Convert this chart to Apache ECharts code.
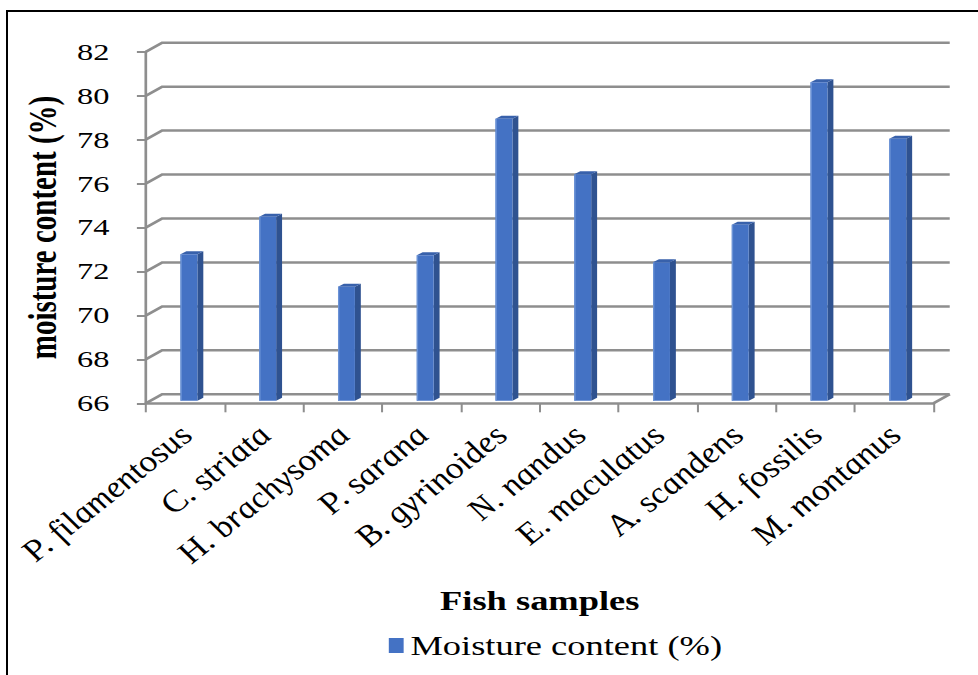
<!DOCTYPE html>
<html>
<head>
<meta charset="utf-8">
<title>Moisture content of fish samples</title>
<script src="https://cdn.jsdelivr.net/npm/echarts@6/dist/echarts.min.js"></script>
<style>
  html, body { margin: 0; padding: 0; background: #fff; overflow: hidden; width: 978px; height: 675px; }
  #frame { position: absolute; left: 6px; top: 10px; width: 1100px; height: 800px; border: 2px solid #000; box-sizing: border-box; }
  /* the chart is laid out narrow and widened horizontally */
  #chart { position: absolute; left: 0; top: 0; width: 724.4px; height: 675px; transform: scaleX(1.35); transform-origin: 0 0; }
</style>
</head>
<body>
<div id="frame"></div>
<div id="chart"></div>
<script>
// Fish species sampled
var categories = ['P. filamentosus', 'C. striata', 'H. brachysoma', 'P. sarana', 'B. gyrinoides',
                  'N. nandus', 'E. maculatus', 'A. scandens', 'H. fossilis', 'M. montanus'];
// Moisture content (%) of each species
var moisture = [72.66, 74.37, 71.19, 72.62, 78.83, 76.31, 72.30, 74.01, 80.49, 77.92];
// Value-axis ticks
var yTicks = [66, 68, 70, 72, 74, 76, 78, 80, 82];

var seriesName = 'Moisture content (%)';
var serif = "'Liberation Serif', 'Times New Roman', serif";
var gridColor = '#8e8e8e';
// pseudo-3D depth of the back wall (px)
var wallDX = 12, wallDY = -9;

var chart = echarts.init(document.getElementById('chart'), null, { renderer: 'svg' });

function renderWall(params, api) {
  var cs = params.coordSys;
  var v = api.value(0);
  var y = api.coord([0, v])[1];
  var left = cs.x, right = cs.x + cs.width;
  var style = { stroke: gridColor, lineWidth: 2.5, fill: null };
  var children = [{
    type: 'polyline',
    shape: { points: [[left, y], [left + wallDX, y + wallDY], [right + wallDX, y + wallDY]] },
    style: style, silent: true
  }];
  if (v === yTicks[0]) {
    children.push({
      type: 'line',
      shape: { x1: right, y1: y, x2: right + wallDX, y2: y + wallDY },
      style: style, silent: true
    });
  }
  return { type: 'group', children: children };
}

function renderBar(params, api) {
  var i = api.value(0), v = api.value(1);
  var top = api.coord([i, v]);
  var base = api.coord([i, yTicks[0]]);
  var band = api.size([1, 0])[0];
  var w = band * 0.215;       // front face width
  var bx = band * 0.075;      // side depth in x
  var by = -3;                // side depth in y
  var ox = band * 0.046, oy = -2.6;
  var L = top[0] + ox - w / 2;
  var yT = top[1] + oy, yB = base[1] + oy;
  return {
    type: 'group',
    children: [
      { type: 'polygon',
        shape: { points: [[L + w, yT], [L + w + bx, yT + by], [L + w + bx, yB + by], [L + w, yB]] },
        style: { fill: '#2f5290' } },
      { type: 'polygon',
        shape: { points: [[L, yT], [L + bx, yT + by], [L + w + bx, yT + by], [L + w, yT]] },
        style: { fill: '#3861ab' } },
      { type: 'rect',
        shape: { x: L, y: yT, width: w, height: yB - yT },
        style: { fill: '#4472c4' } },
      { type: 'line',
        shape: { x1: L + 0.5, y1: yT, x2: L + 0.5, y2: yB },
        style: { stroke: '#6b93d6', lineWidth: 1 } }
    ]
  };
}

chart.setOption({
  animation: false,
  backgroundColor: 'transparent',
  grid: { left: 108.1, right: 32.5, top: 51.7, bottom: 271.7, containLabel: false },
  legend: {
    data: [seriesName],
    left: 288,
    top: 632,
    padding: 0,
    icon: 'rect',
    itemWidth: 11,
    itemHeight: 15,
    textStyle: { fontFamily: serif, fontSize: 27, color: '#000' }
  },
  xAxis: {
    type: 'category',
    data: categories,
    boundaryGap: true,
    name: 'Fish samples',
    nameLocation: 'middle',
    nameGap: 184,
    nameTextStyle: { fontFamily: serif, fontSize: 27, fontWeight: 'bold', color: '#000' },
    axisLine: { show: true, lineStyle: { color: gridColor, width: 2.5 } },
    axisTick: { show: true, length: 9, lineStyle: { color: gridColor, width: 1.5 } },
    axisLabel: {
      interval: 0, rotate: 47, margin: 27,
      fontFamily: serif, fontSize: 28.5, fontStyle: 'italic', color: '#000'
    },
    splitLine: { show: false }
  },
  yAxis: {
    type: 'value',
    min: yTicks[0],
    max: yTicks[yTicks.length - 1],
    interval: yTicks[1] - yTicks[0],
    name: 'moisture content (%)',
    nameLocation: 'middle',
    nameGap: 54,
    nameRotate: 90,
    nameTextStyle: { fontFamily: serif, fontSize: 29, fontWeight: 'bold', color: '#000' },
    axisLine: { show: true, lineStyle: { color: gridColor, width: 2 } },
    axisTick: { show: true, length: 6.7, lineStyle: { color: gridColor, width: 2 } },
    axisLabel: { margin: 27, fontFamily: serif, fontSize: 24, color: '#000' },
    splitLine: { show: false }
  },
  series: [
    {
      name: 'wall',
      type: 'custom',
      renderItem: renderWall,
      data: yTicks.map(function (t) { return [t]; }),
      encode: { y: 0 },
      z: 1,
      silent: true,
      tooltip: { show: false }
    },
    {
      name: seriesName,
      type: 'custom',
      renderItem: renderBar,
      itemStyle: { color: '#4472c4' },
      data: moisture.map(function (v, i) { return [i, v]; }),
      encode: { x: 0, y: 1 },
      z: 3
    }
  ]
});
</script>
</body>
</html>
